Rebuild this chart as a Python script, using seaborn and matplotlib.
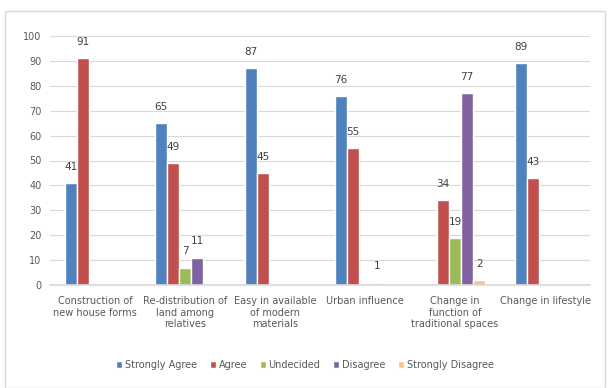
import matplotlib
matplotlib.use("Agg")
import matplotlib.pyplot as plt
import seaborn as sns
import pandas as pd
from matplotlib.patches import Rectangle

categories = ["Construction of\nnew house forms",
              "Re-distribution of\nland among\nrelatives",
              "Easy in available\nof modern\nmaterials",
              "Urban influence",
              "Change in\nfunction of\ntraditional spaces",
              "Change in lifestyle"]
series = ["Strongly Agree", "Agree", "Undecided", "Disagree", "Strongly Disagree"]
strongly_agree = [41, 65, 87, 76, None, 89]
agree = [91, 49, 45, 55, 34, 43]
undecided = [None, 7, None, None, 19, None]
disagree = [None, 11, None, 1, 77, None]
strongly_disagree = [None, None, None, None, 2, None]
colors = ["#4F81BD", "#C0504D", "#9BBB59", "#8064A2", "#FAC090"]

rows = []
for s, vals in zip(series, [strongly_agree, agree, undecided, disagree, strongly_disagree]):
    for c, v in zip(categories, vals):
        if v is not None:
            rows.append({"category": c, "series": s, "value": v})
df = pd.DataFrame(rows)

sns.set_theme(style="white")
plt.rcParams['font.family'] = ['DejaVu Sans']
txt = "#595959"

fig = plt.figure(figsize=(6.11, 3.88), dpi=100)
fig.patches.append(Rectangle((5/611, 0), 600/611, 1 - 11/388, transform=fig.transFigure,
                             fill=False, edgecolor="#D9D9D9", linewidth=1))
ax = fig.add_axes([50/611, 1 - 285/388, 540/611, 249/388])

sns.barplot(data=df, x="category", y="value", hue="series", order=categories,
            hue_order=series, palette=colors, width=0.67, saturation=1,
            ax=ax, legend=True)

for cont in ax.containers:
    ax.bar_label(cont, padding=8, fontsize=7.5, color="#404040")

ax.set_ylim(0, 100)
ax.set_yticks(range(0, 101, 10))
ax.yaxis.grid(True, color="#D9D9D9", linewidth=0.8)
ax.set_axisbelow(True)
for sp in ["left", "right", "top"]:
    ax.spines[sp].set_visible(False)
ax.spines["bottom"].set_color("#D9D9D9")
ax.set_xlabel("")
ax.set_ylabel("")
ax.tick_params(axis="both", length=0, labelsize=7, colors=txt, pad=6)
ax.tick_params(axis="x", pad=8)

h, l = ax.get_legend_handles_labels()
ax.legend_.remove()
fig.legend(h, l, loc="center", bbox_to_anchor=(305/611, 1 - 365/388), ncol=5,
           frameon=False, fontsize=7, handlelength=0.6, handleheight=0.6,
           handletextpad=0.3, columnspacing=1.3, labelcolor=txt)

fig.savefig("out.png", dpi=100)
